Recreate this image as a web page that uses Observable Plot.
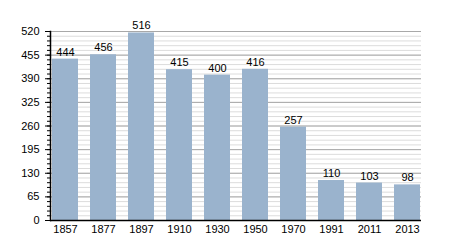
<!DOCTYPE html>
<html><head><meta charset="utf-8">
<script src="https://cdn.jsdelivr.net/npm/d3@7"></script>
<script src="https://cdn.jsdelivr.net/npm/@observablehq/plot@0.6"></script>
<style>body{margin:0;background:#fff}</style>
</head><body><div id="chart"></div>
<script>
const years = ["1857","1877","1897","1910","1930","1950","1970","1991","2011","2013"];
const population = [444,456,516,415,400,416,257,110,103,98];
const majorTicks = [0,65,130,195,260,325,390,455,520];
const minorTicks = [0,13,26,39,52,65,78,91,104,117,130,143,156,169,182,195,208,221,234,247,260,273,286,299,312,325,338,351,364,377,390,403,416,429,442,455,468,481,494,507,520];
const data = years.map((y,i)=>({year:y, value:population[i]}));
const chart = Plot.plot({
  width:450, height:250,
  marginLeft:50, marginRight:29, marginTop:31, marginBottom:30,
  style:{fontFamily:"'Liberation Sans', Arial, sans-serif", fontSize:"11px", background:"#fff", color:"#000"},
  x:{domain:years, paddingInner:0.32, paddingOuter:0, label:null},
  y:{domain:[0,520], label:null},
  marks:[
    Plot.ruleY(minorTicks, {stroke:"#dcdcdc", strokeWidth:1, strokeOpacity:1}),
    Plot.ruleY(majorTicks, {stroke:"#a8a8a8", strokeWidth:1, strokeOpacity:1}),
    Plot.barY(data, {x:"year", y:"value", fill:"#9ab3cd"}),
    Plot.text(data, {x:"year", y:"value", text:d=>String(d.value), dy:-7, fontSize:11, fill:"#000"}),
    Plot.axisY({ticks:minorTicks, tickSize:3, text:null, label:null}),
    Plot.axisY({ticks:majorTicks, tickSize:5, tickPadding:6, label:null, fontSize:11}),
    Plot.axisX({tickSize:0, tickPadding:5, label:null, fontSize:11}),
    Plot.ruleY([0], {stroke:"#000", strokeWidth:1.5}),
    Plot.frame({anchor:"left", stroke:"#000", strokeWidth:1.5})
  ]
});
document.getElementById("chart").appendChild(chart);
</script></body></html>
